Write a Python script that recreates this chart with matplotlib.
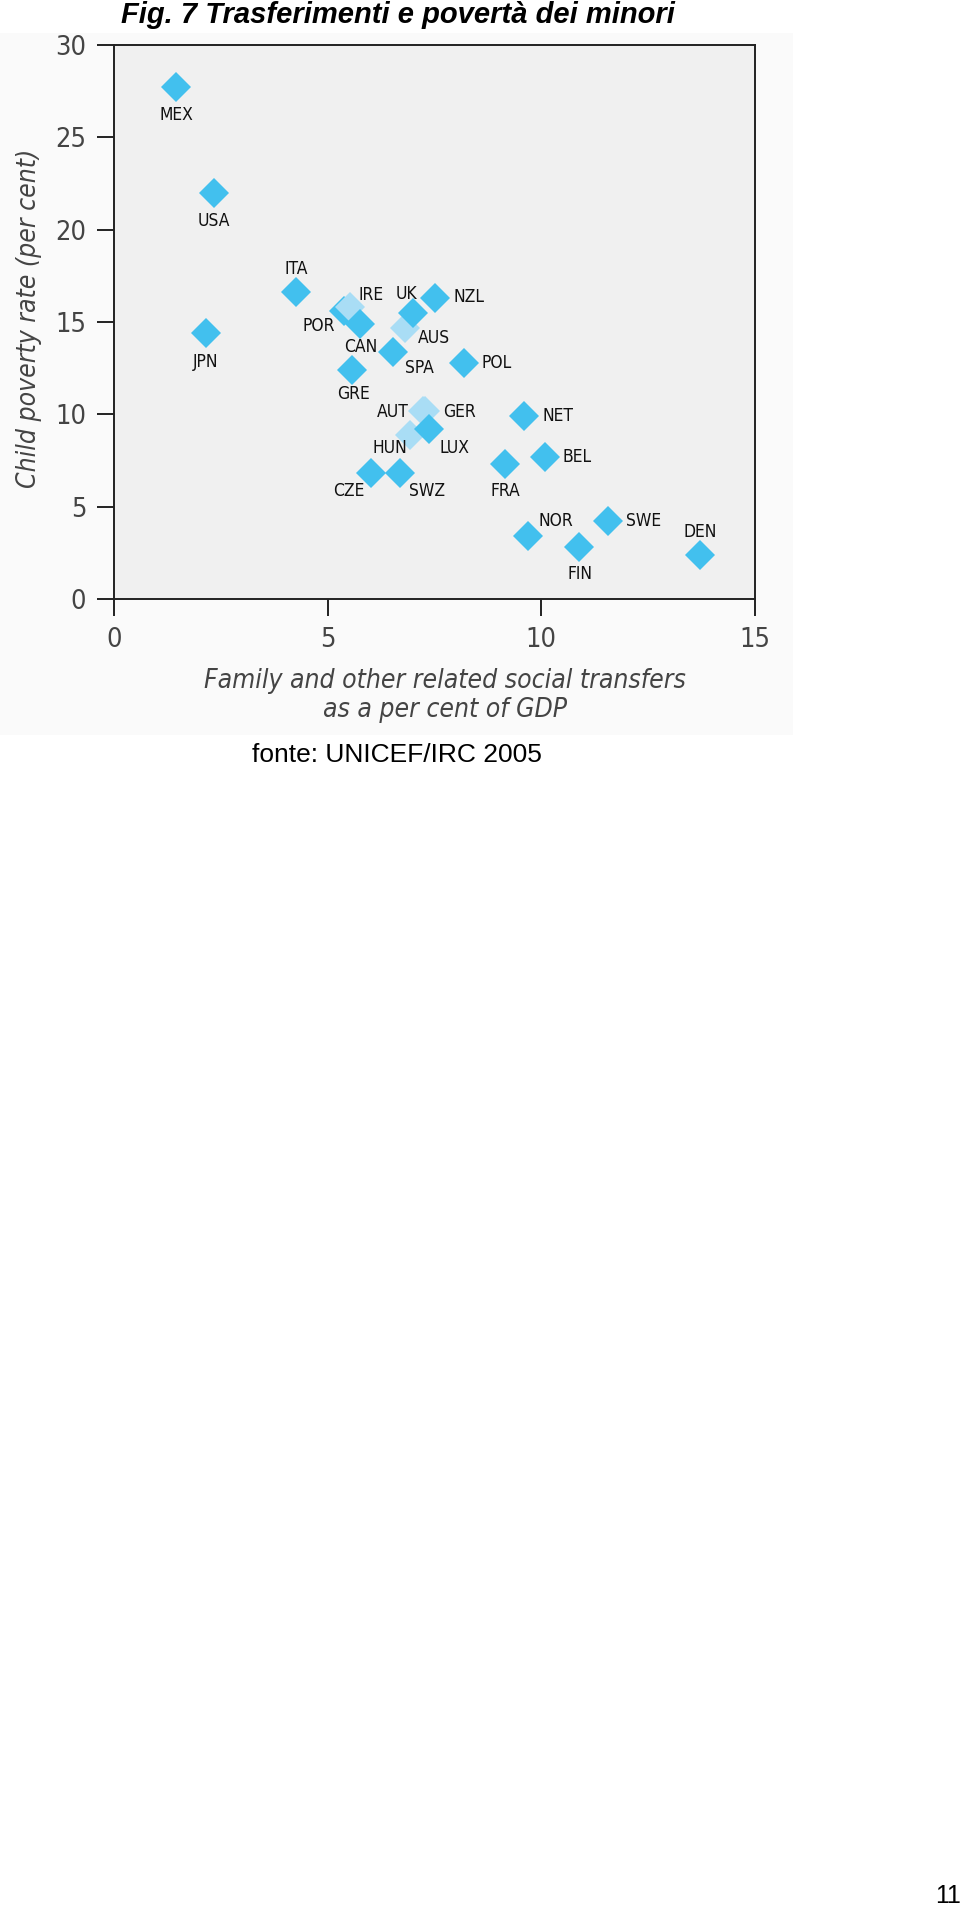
import matplotlib
matplotlib.use("Agg")
import matplotlib.pyplot as plt
from matplotlib.patches import Rectangle

# data (x: transfers % GDP, y: child poverty %)
countries = ["MEX", "USA", "JPN", "ITA", "POR", "IRE", "CAN", "GRE", "SPA",
             "AUS", "UK", "NZL", "POL", "AUT", "GER", "HUN", "LUX", "CZE",
             "SWZ", "FRA", "NET", "BEL", "NOR", "FIN", "SWE", "DEN"]
transfers = [1.45, 2.34, 2.15, 4.26, 5.38, 5.52, 5.76, 5.58, 6.52,
             6.81, 6.99, 7.51, 8.18, 7.22, 7.27, 6.93, 7.37, 6.01,
             6.69, 9.15, 9.60, 10.09, 9.68, 10.88, 11.55, 13.71]
poverty = [27.7, 22.0, 14.4, 16.6, 15.6, 15.8, 14.9, 12.4, 13.4,
           14.7, 15.5, 16.3, 12.8, 10.2, 10.2, 8.9, 9.2, 6.8,
           6.8, 7.3, 9.9, 7.7, 3.4, 2.8, 4.2, 2.4]
light = ["IRE", "AUS", "AUT", "GER", "HUN"]

x_ticks = [0, 5, 10, 15]
y_ticks = [0, 5, 10, 15, 20, 25, 30]

# label offsets from the marker centre, in pixels (dx right, dy down)
label_pos = {
    "MEX": (0, 28, "center"), "USA": (0, 28, "center"), "JPN": (0, 29, "center"),
    "ITA": (0, -23, "center"), "POR": (-9, 15, "right"), "IRE": (9, -12, "left"),
    "CAN": (1, 23, "center"), "GRE": (1, 24, "center"), "SPA": (12, 16, "left"),
    "AUS": (13, 10, "left"), "UK": (-6, -19, "center"), "NZL": (19, -1, "left"),
    "POL": (18, 0, "left"), "AUT": (-14, 1, "right"), "GER": (18, 1, "left"),
    "HUN": (-20, 13, "center"), "LUX": (26, 19, "center"), "CZE": (-22, 18, "center"),
    "SWZ": (27, 18, "center"), "FRA": (0, 27, "center"), "NET": (18, 0, "left"),
    "BEL": (17, 0, "left"), "NOR": (28, -15, "center"), "FIN": (1, 27, "center"),
    "SWE": (18, 0, "left"), "DEN": (0, -23, "center"),
}

DARK = "#42c0ee"
LIGHT = "#a9ddf5"
cond = dict(family="DejaVu Sans", stretch="condensed")

W, H = 960, 1911
fig = plt.figure(figsize=(W / 100, H / 100), dpi=100)
fig.patch.set_facecolor("white")

# faint backdrop of the embedded chart image
fig.patches.append(Rectangle((0, 1 - 735 / H), 793 / W, (735 - 33) / H,
                             transform=fig.transFigure, facecolor="#fafafa",
                             edgecolor="none", zorder=-5))

ax = fig.add_axes([114 / W, 1 - 599 / H, 641 / W, 554 / H])
ax.set_zorder(2)
ax.set_facecolor("#f0f0f0")
ax.set_xlim(0, 15)
ax.set_ylim(0, 30)

for c, xv, yv in zip(countries, transfers, poverty):
    col = LIGHT if c in light else DARK
    ax.plot(xv, yv, marker="D", markersize=15.5, color=col,
            markeredgewidth=0, linestyle="none", clip_on=False)
    dx, dy, ha = label_pos[c]
    ax.annotate(c, (xv, yv), xytext=(dx * 0.72, -dy * 0.72),
                textcoords="offset points", ha=ha, va="center",
                fontsize=12.5, color="#111111", **cond)

ax.set_xticks(x_ticks)
ax.set_yticks(y_ticks)
ax.tick_params(direction="out", length=12, width=1.4, color="#222222",
               labelsize=19.5, labelcolor="#444444", pad=8)
for lab in ax.get_xticklabels() + ax.get_yticklabels():
    lab.set_family("DejaVu Sans")
    lab.set_stretch("condensed")
for s in ax.spines.values():
    s.set_linewidth(1.4)
    s.set_color("#222222")

ax.set_xlabel("Family and other related social transfers\nas a per cent of GDP",
              fontsize=19, style="italic", color="#444444",
              linespacing=1.15, **cond)
ax.xaxis.set_label_coords(331 / 641, -(668 - 599) / 554)
ax.set_ylabel("Child poverty rate (per cent)", fontsize=19, style="italic",
              color="#444444", **cond)
ax.yaxis.set_label_coords(-(114 - 42) / 641, (599 - 318) / 554)

fig.text(398 / W, 1 - 15 / H, "Fig. 7 Trasferimenti e povertà dei minori",
         ha="center", va="center", fontsize=21, weight="bold", style="italic",
         family="Liberation Sans")
fig.text(397 / W, 1 - 755 / H, "fonte: UNICEF/IRC 2005", ha="center",
         va="center", fontsize=19, family="Liberation Sans")
fig.text(948 / W, 1 - 1896 / H, "11", ha="center", va="center",
         fontsize=18, family="Liberation Sans")

fig.savefig("out.png", dpi=100)
